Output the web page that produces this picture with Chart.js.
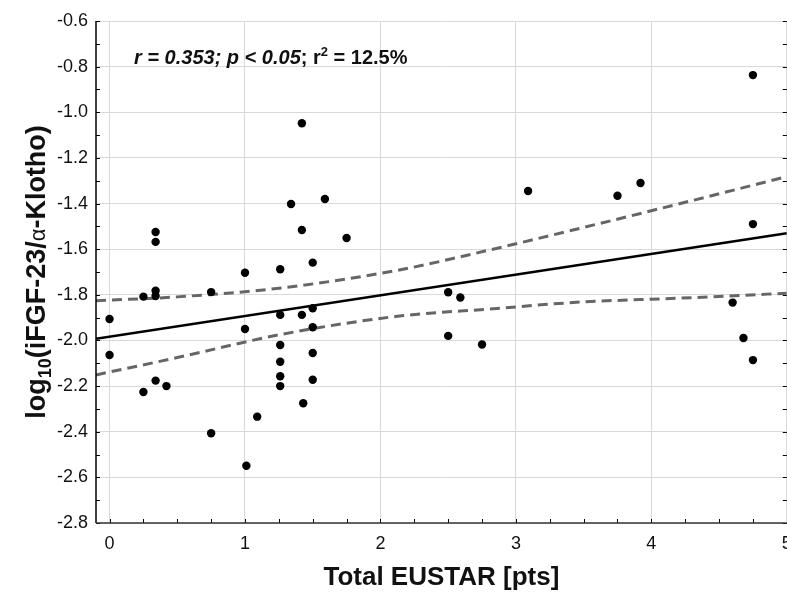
<!DOCTYPE html>
<html>
<head>
<meta charset="utf-8">
<script src="https://cdn.jsdelivr.net/npm/chart.js@4.4.1/dist/chart.umd.min.js"></script>
<style>
    html, body { margin: 0; padding: 0; background: #fff; overflow: hidden; }
    #eustarChart { display: block; }
</style>
</head>
<body>
<!-- canvas is a bit wider than the window so the last x label gets cut at the edge like the original -->
<canvas id="eustarChart" width="791" height="592"></canvas>
<script>
// values
const eustarScore = [
    0, 0, 0.25, 0.25, 0.34, 0.34, 0.34, 0.34, 0.34, 0.42,
    0.75, 0.75, 1.0, 1.0, 1.01, 1.09, 1.26, 1.26, 1.26, 1.26,
    1.26, 1.26, 1.34, 1.42, 1.42, 1.42, 1.43, 1.5, 1.5, 1.5,
    1.5, 1.5, 1.59, 1.75, 2.5, 2.59, 2.5, 2.75, 3.09, 3.75,
    3.92, 4.6, 4.68, 4.75, 4.75, 4.75
];
const logRatio = [
    -1.906, -2.064, -1.808, -2.226, -1.525, -1.568, -1.782, -1.805, -2.176, -2.2,
    -1.788, -2.407, -1.703, -1.95, -2.549, -2.334, -1.688, -1.888, -2.02, -2.093,
    -2.157, -2.2, -1.402, -1.048, -1.516, -1.888, -2.275, -1.659, -1.859, -1.942,
    -2.055, -2.172, -1.38, -1.551, -1.789, -1.812, -1.98, -2.018, -1.345, -1.366,
    -1.31, -1.834, -1.989, -0.837, -1.49, -2.086
];

// regression line and 95% confidence band
const fitX = [-0.1, 5];
const fitY = [-1.993, -1.530];
const bandX = [-0.1, 0.5, 1.28, 2.14, 2.81, 3.47, 4.2, 5];
const bandUpper = [-1.826, -1.809, -1.769, -1.691, -1.603, -1.509, -1.402, -1.282];
const bandLower = [-2.151, -2.075, -1.972, -1.893, -1.862, -1.832, -1.815, -1.793];

const xTicks = [0, 1, 2, 3, 4, 5];
const yTicks = [-2.8, -2.6, -2.4, -2.2, -2.0, -1.8, -1.6, -1.4, -1.2, -1.0, -0.8, -0.6];

const FONT = "'Liberation Sans', Arial, sans-serif";

const toPoints = (xs, ys) => xs.map((x, i) => ({ x: x, y: ys[i] }));

// axis frame with small inward ticks
const frameTicks = {
    id: 'frameTicks',
    afterDatasetsDraw(chart) {
        const { ctx, chartArea: a, scales: { x, y } } = chart;
        ctx.save();
        ctx.strokeStyle = '#000';
        ctx.lineWidth = 1;
        ctx.beginPath();
        for (let i = 0; i <= 22; i++) {
            const py = Math.round(y.getPixelForValue(-2.8 + i * 0.1)) + 0.5;
            ctx.moveTo(a.left, py);
            ctx.lineTo(a.left + 4, py);
            ctx.moveTo(a.right, py);
            ctx.lineTo(a.right - 4, py);
        }
        for (let i = 0; i <= 20; i++) {
            const px = Math.round(x.getPixelForValue(i * 0.25)) + 0.5;
            ctx.moveTo(px, a.bottom);
            ctx.lineTo(px, a.bottom - 4);
        }
        ctx.stroke();

        ctx.lineWidth = 1.5;
        ctx.beginPath();
        ctx.moveTo(a.left, a.top);
        ctx.lineTo(a.left, a.bottom);
        ctx.strokeStyle = '#000';
        ctx.stroke();
        ctx.beginPath();
        ctx.strokeStyle = '#333';
        ctx.moveTo(a.left, a.bottom);
        ctx.lineTo(a.right, a.bottom);
        ctx.stroke();
        ctx.restore();
    }
};

function drawRuns(ctx, runs, x0, baseline) {
    let x = x0;
    runs.forEach(r => {
        ctx.font = r.font;
        ctx.fillText(r.text, x, baseline + (r.dy || 0));
        x += ctx.measureText(r.text).width;
    });
}

function runsWidth(ctx, runs) {
    return runs.reduce((w, r) => {
        ctx.font = r.font;
        return w + ctx.measureText(r.text).width;
    }, 0);
}

// y title with subscript and greek letter, plus the stats line
const textLayer = {
    id: 'textLayer',
    afterDraw(chart) {
        const { ctx, chartArea: a } = chart;
        ctx.save();
        ctx.fillStyle = '#111';
        ctx.textBaseline = 'alphabetic';
        ctx.textAlign = 'left';

        const title = [
            { text: 'log', font: `bold 27px ${FONT}` },
            { text: '10', font: `bold 18px ${FONT}`, dy: 6 },
            { text: '(iFGF-23/', font: `bold 27px ${FONT}` },
            { text: 'α', font: `22px ${FONT}` },
            { text: '-Klotho)', font: `bold 27px ${FONT}` }
        ];
        const w = runsWidth(ctx, title);
        ctx.save();
        ctx.translate(45, (a.top + a.bottom) / 2);
        ctx.rotate(-Math.PI / 2);
        drawRuns(ctx, title, -w / 2, 0);
        ctx.restore();

        const stats = [
            { text: 'r = 0.353; p < 0.05', font: `italic bold 20px ${FONT}` },
            { text: '; r', font: `bold 20px ${FONT}` },
            { text: '2', font: `bold 13px ${FONT}`, dy: -8 },
            { text: ' = 12.5%', font: `bold 20px ${FONT}` }
        ];
        drawRuns(ctx, stats, 134, 64);
        ctx.restore();
    }
};

new Chart(document.getElementById('eustarChart'), {
    type: 'scatter',
    data: {
        datasets: [
            {
                label: 'pacientes',
                data: toPoints(eustarScore, logRatio),
                backgroundColor: '#000',
                borderWidth: 0,
                pointRadius: 4.2,
                pointHoverRadius: 4.2
            },
            {
                label: 'ajuste',
                data: toPoints(fitX, fitY),
                showLine: true,
                borderColor: '#000',
                borderWidth: 2.5,
                pointRadius: 0
            },
            {
                label: 'IC superior',
                data: toPoints(bandX, bandUpper),
                showLine: true,
                borderColor: '#666',
                borderWidth: 3,
                borderDash: [10, 6],
                tension: 0.4,
                cubicInterpolationMode: 'monotone',
                pointRadius: 0
            },
            {
                label: 'IC inferior',
                data: toPoints(bandX, bandLower),
                showLine: true,
                borderColor: '#666',
                borderWidth: 3,
                borderDash: [10, 6],
                tension: 0.4,
                cubicInterpolationMode: 'monotone',
                pointRadius: 0
            }
        ]
    },
    options: {
        responsive: false,
        animation: false,
        layout: { padding: { top: 21, right: 0, left: 0, bottom: 0 } },
        plugins: {
            legend: { display: false },
            tooltip: { enabled: false }
        },
        scales: {
            x: {
                type: 'linear',
                min: -0.1,
                max: 5,
                afterBuildTicks: scale => { scale.ticks = xTicks.map(v => ({ value: v })); },
                afterFit: scale => {
                    scale.height = 69;
                    scale.paddingLeft = 0;
                    scale.paddingRight = 0;
                },
                border: { display: false },
                grid: { color: '#d9d9d9', lineWidth: 1, drawTicks: false },
                ticks: {
                    padding: 10,
                    color: '#111',
                    font: { size: 18, family: FONT },
                    maxRotation: 0,
                    callback: v => String(v)
                },
                title: {
                    display: true,
                    text: 'Total EUSTAR [pts]',
                    color: '#111',
                    font: { size: 26, weight: 'bold', family: FONT, lineHeight: 1 },
                    padding: { top: 0, bottom: 1 }
                }
            },
            y: {
                type: 'linear',
                min: -2.8,
                max: -0.6,
                afterBuildTicks: scale => { scale.ticks = yTicks.map(v => ({ value: v })); },
                afterFit: scale => { scale.width = 96; },
                border: { display: false },
                grid: { color: '#d9d9d9', lineWidth: 1, drawTicks: false },
                ticks: {
                    padding: 8,
                    color: '#111',
                    font: { size: 18, family: FONT },
                    callback: v => v.toFixed(1)
                }
            }
        }
    },
    plugins: [frameTicks, textLayer]
});
</script>
</body>
</html>
